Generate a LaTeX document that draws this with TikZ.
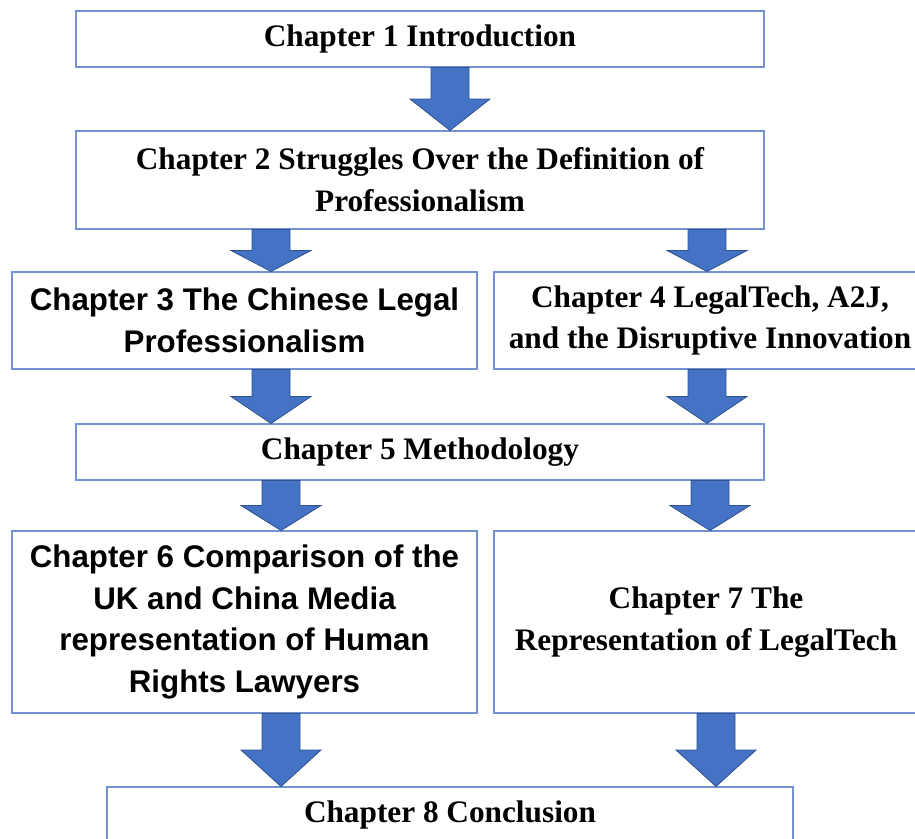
\documentclass[tikz,border=0pt]{standalone}
\usepackage{fontspec}
\setmainfont{Liberation Serif}
\setsansfont{Liberation Sans}
\usepackage{tikz}
\usetikzlibrary{calc,positioning}

\definecolor{boxline}{HTML}{7392D2}
\definecolor{arrowfill}{HTML}{4472C4}
\definecolor{arrowline}{HTML}{2F528F}

% block arrow from the bottom of one box to the top of the next
\newcommand{\chaparrow}[3]{%
  \path (#1,0 |- #2.south) coordinate (at-top) (#1,0 |- #3.north) coordinate (at-tip);
  \path ($(at-top)!0.5!(at-tip)$) coordinate (at-mid);
  \draw[blockarrow] ($(at-top)+(-19,0)$) -- ($(at-top)+(19,0)$) -- ($(at-mid)+(19,0)$)
    -- ($(at-mid)+(40,0)$) -- (at-tip) -- ($(at-mid)+(-40,0)$) -- ($(at-mid)+(-19,0)$) -- cycle;
}

\begin{document}
\begin{tikzpicture}[
    x=0.03cm, y=-0.03cm,
    chapbox/.style={rectangle, draw=boxline, line width=0.9pt, fill=white, align=center, inner sep=0pt,
      font=\fontsize{26.7}{35.7}\selectfont\bfseries},
    sansbox/.style={chapbox, font=\fontsize{26.7}{35.7}\selectfont\sffamily\bfseries},
    blockarrow/.style={draw=arrowline, fill=arrowfill, line width=0.7pt, line join=miter}
]
    \useasboundingbox (0,0) rectangle (915,839);
    \clip (0,0) rectangle (915,839);

    \node[chapbox, minimum width=688*0.03cm, minimum height=56*0.03cm] (ch1) at (420,39) {Chapter 1 Introduction};
    \node[chapbox, minimum width=688*0.03cm, minimum height=98*0.03cm] (ch2) at (420,180) {Chapter 2 Struggles Over the Definition of\\Professionalism};
    \node[sansbox, minimum width=465*0.03cm, minimum height=97*0.03cm] (ch3) at (244.5,320.5) {Chapter 3 The Chinese Legal\\Professionalism};
    \node[chapbox, minimum width=432*0.03cm, minimum height=97*0.03cm] (ch4) at (710,320.5) {Chapter 4 LegalTech, A2J,\\and the Disruptive Innovation};
    \node[chapbox, minimum width=688*0.03cm, minimum height=56*0.03cm] (ch5) at (420,452) {Chapter 5 Methodology};
    \node[sansbox, minimum width=465*0.03cm, minimum height=182*0.03cm] (ch6) at (244.5,622) {Chapter 6 Comparison of the\\UK and China Media\\representation of Human\\Rights Lawyers};
    \node[chapbox, minimum width=424*0.03cm, minimum height=182*0.03cm] (ch7) at (706,622) {Chapter 7 The\\Representation of LegalTech};
    \node[chapbox, minimum width=686*0.03cm, minimum height=56*0.03cm] (ch8) at (450,815) {Chapter 8 Conclusion};

    \chaparrow{450}{ch1}{ch2}
    \chaparrow{271}{ch2}{ch3}
    \chaparrow{707}{ch2}{ch4}
    \chaparrow{271}{ch3}{ch5}
    \chaparrow{707}{ch4}{ch5}
    \chaparrow{281}{ch5}{ch6}
    \chaparrow{710}{ch5}{ch7}
    \chaparrow{281}{ch6}{ch8}
    \chaparrow{716}{ch7}{ch8}
\end{tikzpicture}
\end{document}
